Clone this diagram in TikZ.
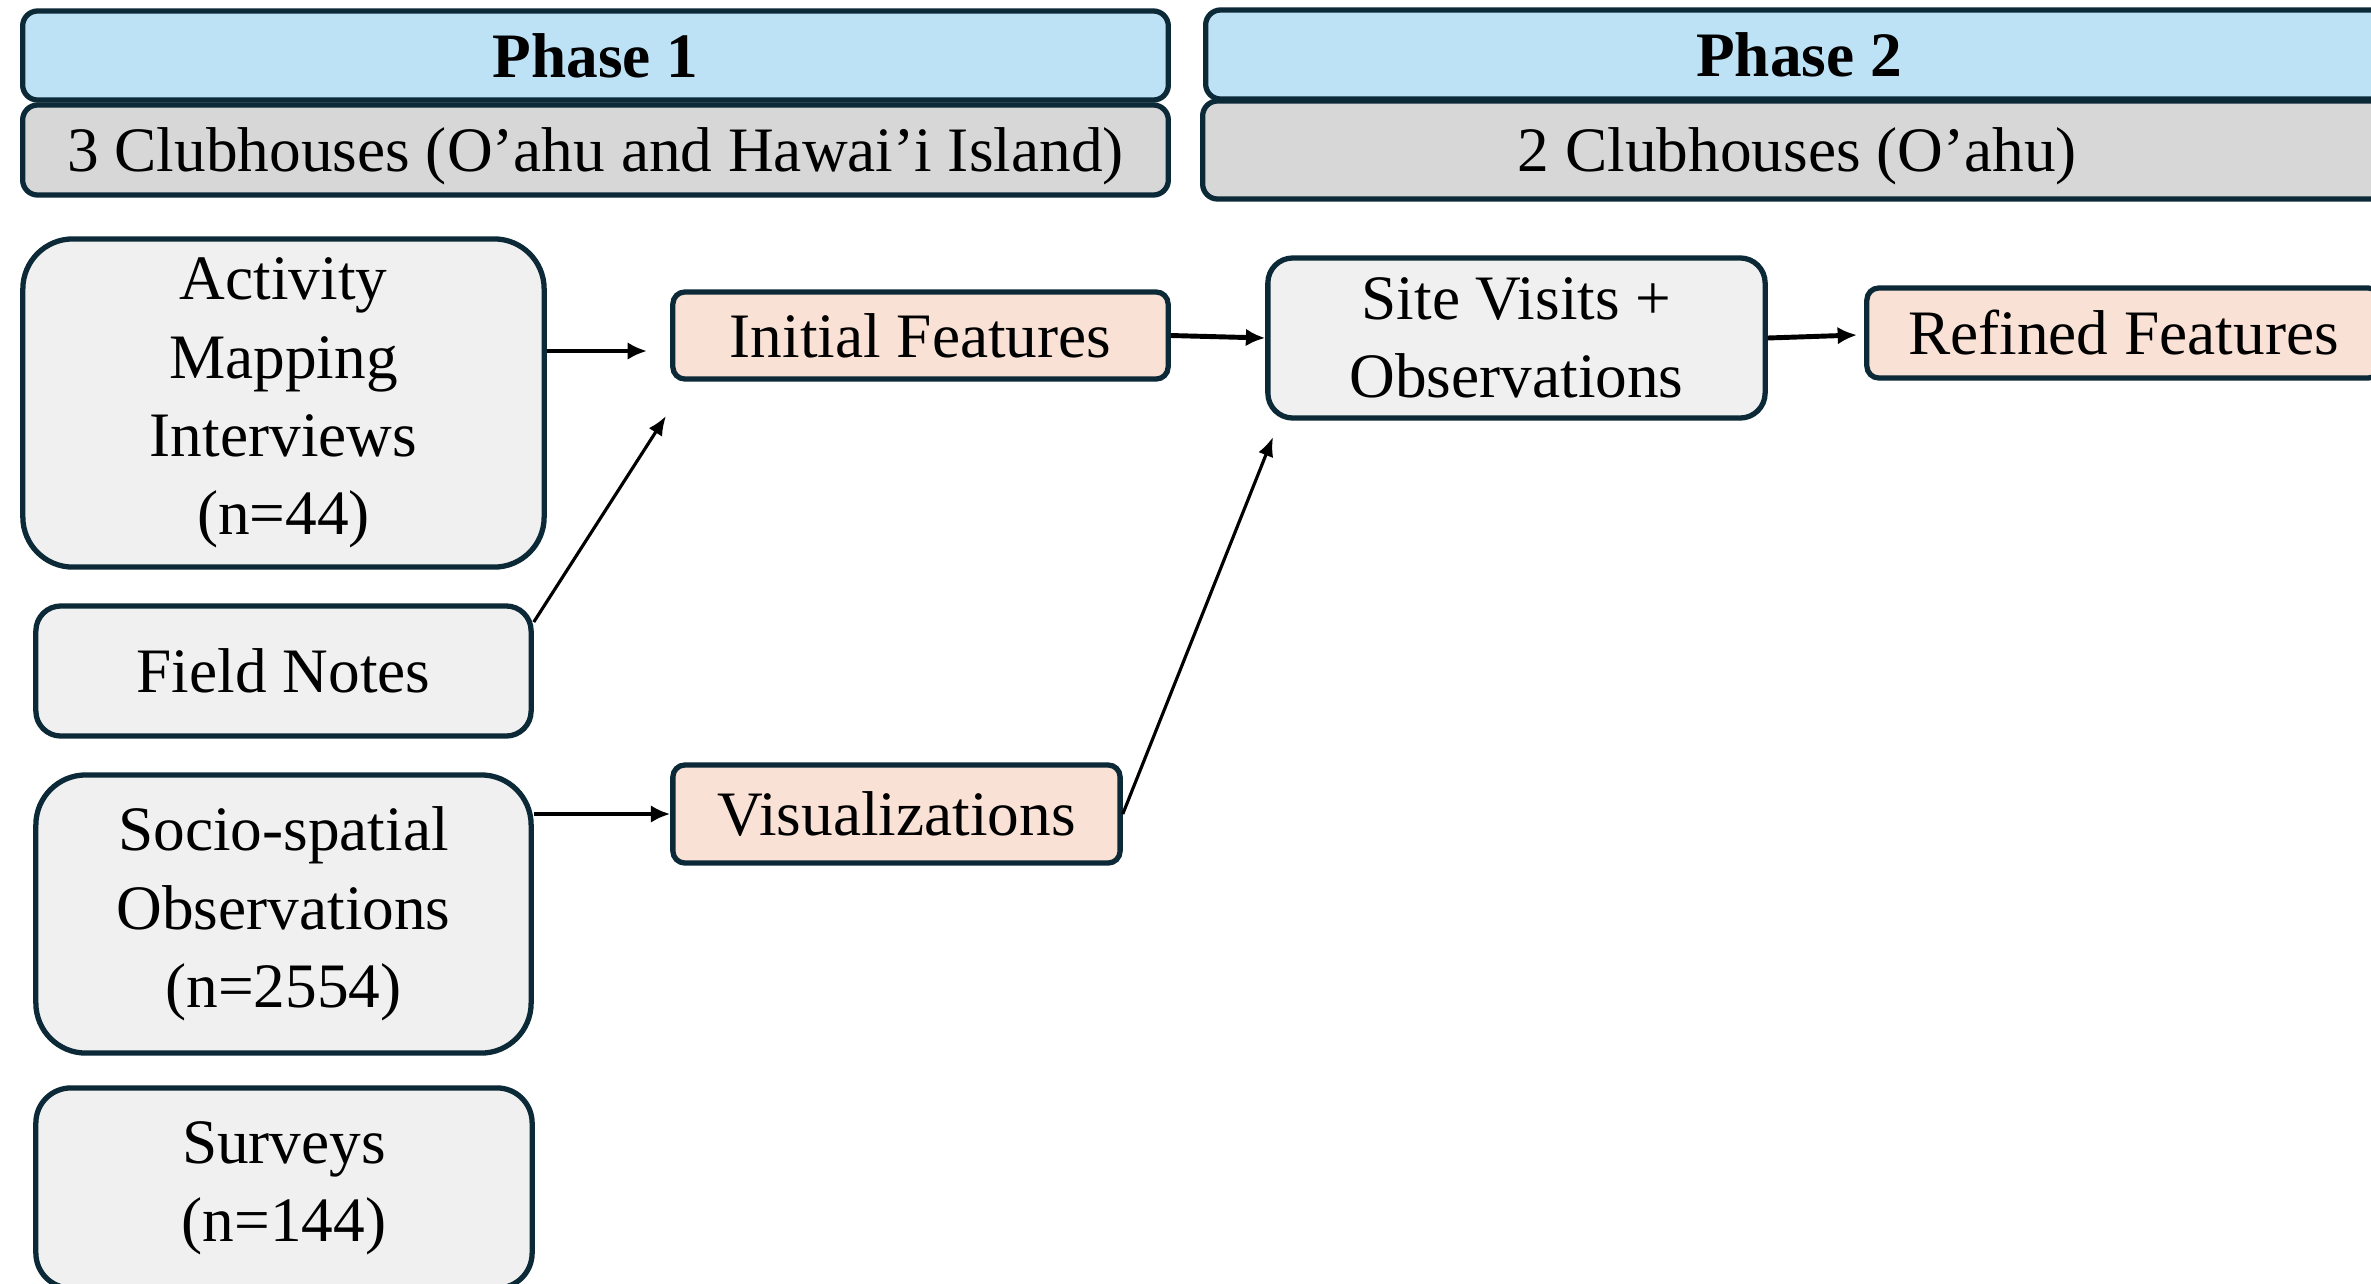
\documentclass[tikz,border=0pt]{standalone}
\usepackage{fontspec}
\setmainfont{Liberation Serif}
\usetikzlibrary{arrows.meta,calc}
\definecolor{bd}{HTML}{0B2936}
\definecolor{phblue}{HTML}{BEE2F5}
\definecolor{subgray}{HTML}{D7D7D7}
\definecolor{boxgray}{HTML}{F0F0F0}
\definecolor{peach}{HTML}{F9E1D5}
\newcommand{\diagfs}{\fontsize{18pt}{22.3pt}\selectfont}
\tikzset{
  basebox/.style={draw=bd, line width=1.5pt, inner sep=0pt, align=center, font=\diagfs},
  oneline/.style={text height=16pt, text depth=3.6pt},
  hdr/.style={basebox, oneline, fill=phblue, rounded corners=0.15cm},
  subhdr/.style={basebox, oneline, fill=subgray, rounded corners=0.15cm},
  srcbox/.style={basebox, fill=boxgray},
  outbox/.style={basebox, oneline, fill=peach, rounded corners=0.12cm},
  arr/.style={line width=1.4pt, -{Latex[length=5.5pt,width=5pt]}},
  thinarr/.style={line width=0.9pt, -{Latex[length=5.5pt,width=4.5pt]}}
}
\begin{document}
\begin{tikzpicture}[x=0.01cm,y=-0.01cm]
\useasboundingbox (0,0) rectangle (2371,1284);
\clip (0,0) rectangle (2371,1284);
\fill[white] (0,0) rectangle (2371,1284);

% headers
\node[hdr, minimum width=11.45cm, minimum height=0.89cm] (ph1) at (595.5,55.5) {\bfseries Phase 1};
\node[subhdr, minimum width=11.45cm, minimum height=0.90cm] (sub1) at (595.5,150) {3 Clubhouses (O’ahu and Hawai’i Island)};
\node[hdr, minimum width=11.86cm, minimum height=0.89cm] (ph2) at (1799,54.5) {\bfseries Phase 2};
\node[subhdr, minimum width=11.89cm, minimum height=0.98cm] (sub2) at (1797.5,150) {2 Clubhouses (O’ahu)};

% source boxes
\node[srcbox, rounded corners=0.5cm, minimum width=5.21cm, minimum height=3.28cm] (act) at (283.5,403) {Activity\\Mapping\\Interviews\\(n=44)};
\node[srcbox, oneline, rounded corners=0.25cm, minimum width=4.95cm, minimum height=1.30cm] (fn) at (283.5,671) {Field Notes};
\node[srcbox, rounded corners=0.5cm, minimum width=4.95cm, minimum height=2.78cm] (soc) at (283.5,914) {Socio-spatial\\Observations\\(n=2554)};
\node[srcbox, rounded corners=0.35cm, minimum width=4.96cm, minimum height=2.00cm] (sur) at (284,1188) {Surveys\\(n=144)};

% outputs
\node[outbox, minimum width=4.95cm, minimum height=0.87cm] (init) at (920.5,335.5) {Initial Features};
\node[outbox, minimum width=4.47cm, minimum height=0.98cm] (vis) at (896.5,814) {Visualizations};
\node[srcbox, rounded corners=0.25cm, minimum width=4.97cm, minimum height=1.60cm] (site) at (1516.5,338) {Site Visits +\\Observations};
\node[outbox, minimum width=5.13cm, minimum height=0.90cm] (ref) at (2123.5,333) {Refined Features};

% arrow end points
\coordinate (a1) at (647,351);
\coordinate (s2) at (0,622);
\coordinate (a2) at (666,416);
\coordinate (a4) at (1273,437);
\coordinate (a6) at (1857,335);

\draw[arr] (act.east |- a1) -- (a1);
\draw[thinarr] (fn.east |- s2) -- (a2);
\draw[arr] (soc.east |- vis.west) -- (vis.west);
\draw[thinarr] (vis.east) -- (a4);
\draw[arr] (init.east) -- (site.west);
\draw[arr] (site.east) -- (a6);
\end{tikzpicture}
\end{document}
